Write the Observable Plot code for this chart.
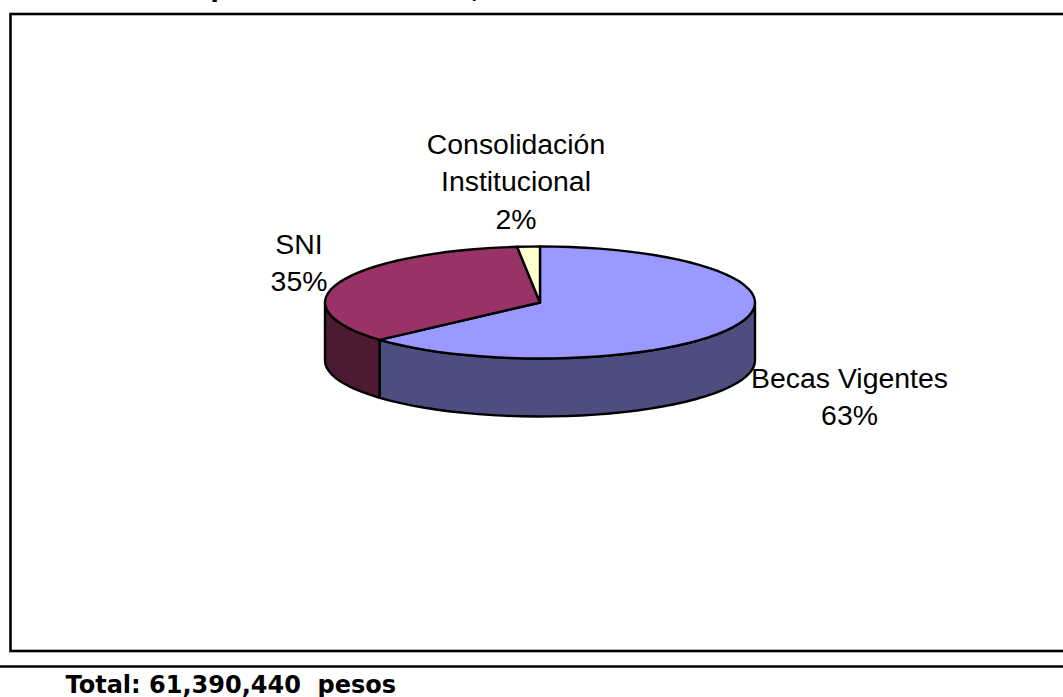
<!DOCTYPE html>
<html><head><meta charset="utf-8">
<script src="https://cdn.jsdelivr.net/npm/d3@7"></script>
<script src="https://cdn.jsdelivr.net/npm/@observablehq/plot@0.6"></script>
<style>html,body{margin:0;padding:0;background:#fff;overflow:hidden}svg{display:block}</style>
</head><body><div id="chart"></div>
<script>
const categories = ["Becas Vigentes", "SNI", "Consolidación Institucional"];
const shares = [63.4, 34.9, 1.7];
const percentLabels = ["63%", "35%", "2%"];
const labelLines = ["Becas Vigentes", "SNI", "Consolidación\nInstitucional"];
const topColors = ["#9999ff", "#993366", "#ffffcc"];
const sideColors = ["#4d4d80", "#4d1a33", "#808066"];
const totalText = "Total: 61,390,440  pesos";

const W = 1063, H = 697;
const cx = 539.5, cy = 302, rx = 215, ry = 56, depth = 58;
const pt = (a, dy = 0) => [cx + rx * Math.sin(a), cy - ry * Math.cos(a) + dy];
const total = d3.sum(shares);
let acc = 0;
const arcs = shares.map((v, i) => {
  const a0 = acc / total * 2 * Math.PI; acc += v;
  return {i, a0, a1: acc / total * 2 * Math.PI};
});
const samples = (a0, a1) => { const n = Math.max(2, Math.ceil((a1 - a0) / 0.07)); return d3.range(n + 1).map(k => a0 + (a1 - a0) * k / n); };

const topPolys = [], sidePolys = [];
arcs.forEach(({i, a0, a1}) => {
  const ring = [[cx, cy], ...samples(a0, a1).map(a => pt(a)), [cx, cy]];
  ring.forEach(([x, y]) => topPolys.push({x, y, k: categories[i], fill: topColors[i]}));
  const s0 = Math.max(a0, Math.PI / 2), s1 = Math.min(a1, 3 * Math.PI / 2);
  if (s1 > s0) {
    const as = samples(s0, s1);
    const wall = [...as.map(a => pt(a)), ...as.slice().reverse().map(a => pt(a, depth))];
    wall.push(wall[0]);
    wall.forEach(([x, y]) => sidePolys.push({x, y, k: categories[i], fill: sideColors[i]}));
  }
});

const labels = [
  {x: 849, y: 394, text: labelLines[0] + "\n" + percentLabels[0]},
  {x: 298.5, y: 260, text: labelLines[1] + "\n" + percentLabels[1]},
  {x: 515.5, y: 178.8, text: labelLines[2] + "\n" + percentLabels[2]}
];
const clippedTitle = [{x: 210, t: "p"}, {x: 471, t: ","}];

const chart = Plot.plot({
  width: W, height: H, margin: 0,
  x: {domain: [0, W], range: [0, W], axis: null},
  y: {domain: [0, H], range: [0, H], axis: null},
  style: {background: "#fff"},
  marks: [
    Plot.rect([{x1: 10.5, x2: W + 10, y1: 14, y2: 651}], {x1: "x1", x2: "x2", y1: "y1", y2: "y2", fill: "#fff", stroke: "#000", strokeWidth: 2.6}),
    Plot.ruleY([666], {stroke: "#000", strokeWidth: 2.4}),
    Plot.line(sidePolys, {x: "x", y: "y", z: "k", fill: "fill", stroke: "#000", strokeWidth: 2.4, strokeLinejoin: "round", curve: "linear"}),
    Plot.line(topPolys, {x: "x", y: "y", z: "k", fill: "fill", stroke: "#000", strokeWidth: 2.4, strokeLinejoin: "round", curve: "linear"}),
    Plot.text(labels, {x: "x", y: "y", text: "text", fontFamily: "Liberation Sans", fontSize: 28.4, fill: "#000", lineHeight: 1.33, textAnchor: "middle", lineAnchor: "middle"}),
    Plot.text(clippedTitle, {x: "x", y: () => -11, text: "t", fontFamily: "DejaVu Sans", fontWeight: "bold", fontSize: 24, fill: "#000", textAnchor: "start", lineAnchor: "middle"}),
    Plot.text([totalText], {x: 65, y: 685, text: d => d, fontFamily: "DejaVu Sans", fontWeight: "bold", fontSize: 24, fill: "#000", textAnchor: "start", lineAnchor: "middle"}),
  ]
});
document.getElementById("chart").append(chart);
</script></body></html>
